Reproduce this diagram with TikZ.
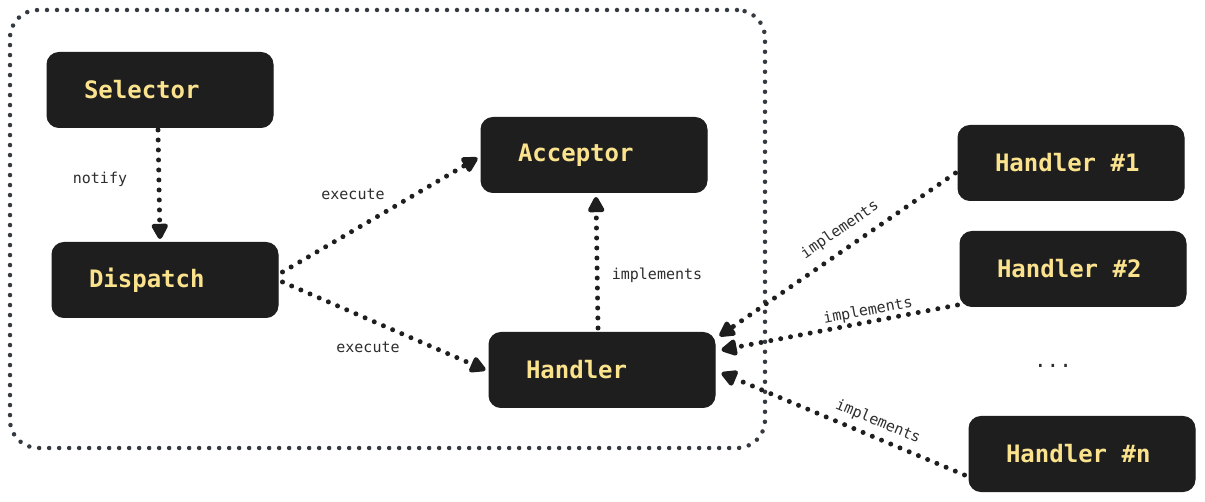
\documentclass[tikz,border=0pt]{standalone}
\usepackage{fontspec}
\setmonofont{DejaVu Sans Mono}
\usetikzlibrary{arrows.meta,calc}
\definecolor{boxc}{HTML}{1E1E1E}
\definecolor{txt}{HTML}{FBE38E}
\definecolor{lbl}{HTML}{2E2E2E}
\definecolor{framec}{HTML}{343A40}
\newcommand{\msp}{\hspace{0.602em}}
\begin{document}
\begin{tikzpicture}[x=1pt,y=-1pt,
 box/.style={fill=boxc, draw=boxc, line width=1pt, rounded corners=12pt, minimum height=75pt, text width=152pt, inner xsep=37pt, inner ysep=0pt, align=left, font=\ttfamily\bfseries\fontsize{24}{28}\selectfont, text=txt},
 conn/.style={draw=boxc, line width=5pt, line cap=round, dash pattern=on 0pt off 10pt, -{Triangle[length=18pt,width=18pt,round]}},
 lab/.style={font=\ttfamily\fontsize{15}{18}\selectfont, text=lbl, inner sep=0pt},
 grpbox/.style={draw=framec, line width=4.5pt, line cap=round, dash pattern=on 0pt off 10pt, rounded corners=28pt, minimum width=755pt, minimum height=438pt, inner sep=0pt}]
\fill[white] (0,0) rectangle (1205,502);
\useasboundingbox (0,0) rectangle (1205,502);

\node[grpbox] (grp) at (387.5,229) {};

\node[box] (sel) at (160,90) {Selector};
\node[box] (disp) at (165,280) {Dispatch};
\node[box] (acc) at (594,155) {Acceptor};
\node[box] (hand) at (602,370) {Handler};
\node[box] (h1) at (1071,163) {Handler\msp\#1};
\node[box] (h2) at (1073,269) {Handler\msp\#2};
\node[box] (hn) at (1082,454) {Handler\msp\#n};
\node[lab, font=\ttfamily\fontsize{21}{24}\selectfont] (dots) at (1053,366) {...};

\draw[conn] ($(sel.south)+(-2,2)$) -- ($(disp.north)+(-5,-3)$);
\node[lab] (l1) at (100,179) {notify};

\draw[conn] ($(disp.east)+(4,-8)$) -- ($(acc.west)+(-3,3)$);
\node[lab] (l2) at (353,194) {execute};

\draw[conn] ($(disp.east)+(4,2)$) -- ($(hand.west)+(-3,0)$);
\node[lab] (l3) at (368,347) {execute};

\draw[conn] ($(hand.north)+(-4,-4)$) -- ($(acc.south)+(2,4)$);
\node[lab] (l4) at (657,275) {implements};

\draw[conn] ($(h1.west)+(-2,10)$) -- ($(hand.east)+(4,-34)$);
\node[lab, rotate=34.5] (l5) at (840,230) {implements};

\draw[conn] ($(h2.west)+(-2,36)$) -- ($(hand.east)+(6,-20)$);
\node[lab, rotate=10.7] (l6) at (868,311) {implements};

\draw[conn] ($(hn.west)+(-4,21)$) -- ($(hand.east)+(6,3)$);
\node[lab, rotate=-22.7] (l7) at (878,422) {implements};
\end{tikzpicture}
\end{document}
